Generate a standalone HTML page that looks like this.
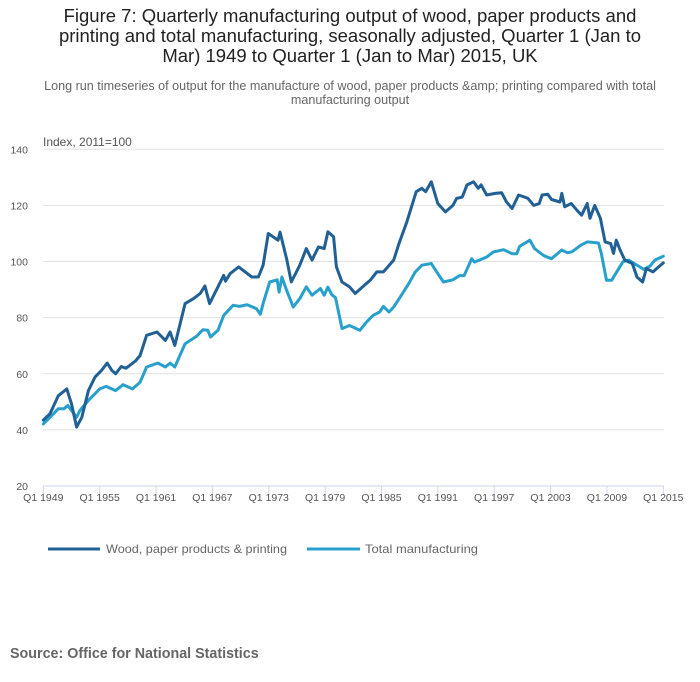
<!DOCTYPE html>
<html><head><meta charset="utf-8"><style>
body{margin:0;background:#fff;font-family:"Liberation Sans",sans-serif;}
#wrap{position:relative;width:700px;height:682px;overflow:hidden;}
.title{position:absolute;left:0;top:6px;width:700px;text-align:center;font-size:18.5px;line-height:20px;color:#222;}
.sub{position:absolute;left:0;top:79px;width:700px;text-align:center;font-size:12.6px;line-height:14px;color:#666;}
.source{position:absolute;left:10px;top:646px;font-size:14.3px;font-weight:bold;color:#666;}
</style></head><body>
<div id="wrap">
<div class="title">Figure 7: Quarterly manufacturing output of wood, paper products and<br>printing and total manufacturing, seasonally adjusted, Quarter 1 (Jan to<br>Mar) 1949 to Quarter 1 (Jan to Mar) 2015, UK</div>
<div class="sub">Long run timeseries of output for the manufacture of wood, paper products &amp;amp; printing compared with total<br>manufacturing output</div>
<svg id="chart" width="700" height="682" style="position:absolute;left:0;top:0"></svg>
<div class="source">Source: Office for National Statistics</div>
</div>
<script>
const yTicks=[20,40,60,80,100,120,140];
const xTickYears=[1949,1955,1961,1967,1973,1979,1985,1991,1997,2003,2009,2015];
const woodYears=[1949.0,1949.7,1950.6,1951.5,1952.0,1952.55,1953.1,1953.8,1954.5,1955.2,1955.8,1956.3,1956.7,1957.3,1957.8,1958.8,1959.3,1960.0,1961.1,1962.0,1962.5,1963.0,1964.1,1965.0,1965.7,1966.2,1966.7,1968.2,1968.4,1968.9,1969.8,1971.2,1971.9,1972.4,1972.95,1974.0,1974.2,1974.9,1975.4,1976.3,1977.0,1977.6,1978.3,1978.9,1979.3,1979.9,1980.2,1980.8,1981.6,1982.2,1983.0,1983.8,1984.5,1985.2,1986.3,1986.8,1987.7,1988.2,1988.7,1989.3,1989.7,1990.3,1991.0,1991.8,1992.6,1993.0,1993.6,1994.1,1994.8,1995.3,1995.6,1996.2,1997.1,1997.8,1998.3,1998.9,1999.6,2000.2,2000.6,2001.2,2001.8,2002.1,2002.7,2003.1,2004.0,2004.2,2004.5,2005.2,2005.8,2006.3,2006.9,2007.2,2007.7,2008.3,2008.8,2009.4,2009.7,2010.0,2010.4,2010.9,2011.7,2012.2,2012.8,2013.2,2013.9,2014.5,2015.0];
const woodValues=[43.5,45.7,52.2,54.6,49.3,41,44.5,54,58.8,61.2,63.8,61.2,60,62.6,62,64.5,66.5,73.7,74.9,71.9,74.9,70.1,85,86.8,88.6,91.3,85,95.1,93,95.7,98.1,94.5,94.5,98.7,110,107.6,110.5,101,92.7,98.7,104.6,100.5,105.2,104.6,110.6,108.8,98.1,92.7,91,88.6,91,93.3,96.3,96.3,100.5,105.8,114.1,119.5,124.9,126.1,124.9,128.4,120.7,117.7,120,122.5,123,127.3,128.4,126.1,127.3,123.7,124.3,124.5,121.3,118.9,123.7,123,122.5,120,120.7,123.7,124,122.1,121.2,124.3,119.5,120.7,118.3,116.5,120.7,115.4,120,115.4,107,106.4,102.9,107.6,104.1,100.5,99.3,94.5,92.7,97.5,96.3,98.1,99.5];
const totalYears=[1949.0,1949.7,1950.6,1951.2,1951.6,1952.55,1952.9,1953.8,1955.0,1955.7,1956.7,1957.5,1958.5,1959.3,1960.0,1961.2,1962.0,1962.5,1963.0,1964.1,1965.3,1966.0,1966.5,1966.8,1967.6,1968.2,1969.2,1969.9,1970.7,1971.7,1972.1,1972.4,1973.1,1973.9,1974.1,1974.4,1974.9,1975.6,1976.3,1977.0,1977.6,1978.5,1978.9,1979.3,1979.7,1980.1,1980.8,1981.6,1982.7,1983.4,1984.1,1984.8,1985.2,1985.8,1986.3,1987.0,1987.9,1988.6,1989.3,1990.3,1991.0,1991.6,1992.6,1993.3,1993.8,1994.6,1994.9,1996.2,1996.9,1998.0,1998.9,1999.4,1999.7,2000.8,2001.3,2002.0,2002.4,2003.1,2004.2,2004.8,2005.3,2006.2,2006.9,2008.1,2008.4,2008.95,2009.5,2010.7,2011.3,2011.8,2012.5,2012.9,2013.6,2014.1,2015.0];
const totalValues=[42.1,44.5,47.5,47.5,48.7,44.5,46.9,50.5,54.6,55.5,54,56.1,54.6,57,62.4,63.8,62.4,63.8,62.4,70.7,73.3,75.7,75.5,73.1,75.5,80.8,84.4,84,84.6,83.2,81.2,85,92.7,93.5,89.1,94.5,89.8,83.8,86.8,91,88,90.4,88,90.9,88.2,87.1,76.1,77.2,75.5,78.4,80.8,82,84,82,83.8,87.4,92.1,96.3,98.7,99.3,95.7,92.7,93.5,95,95,101,99.8,101.6,103.4,104.2,102.8,102.8,105.4,107.6,104.6,102.8,101.9,101,104.1,103.1,103.5,105.8,107,106.6,102.9,93.3,93.3,99.9,100.5,99.5,98.1,97.2,98.4,100.5,101.9];

const NS='http://www.w3.org/2000/svg';
const svg=document.getElementById('chart');
const X0=43.3,X1=663.3,Y0=486,Y1=149.3;
function xs(y){return X0+(y-1949)/(2015-1949)*(X1-X0);}
function ys(v){return Y0-(v-20)/(140-20)*(Y0-Y1);}
function mk(t,a){const e=document.createElementNS(NS,t);for(const k in a)e.setAttribute(k,a[k]);svg.appendChild(e);return e;}

const lab=mk('text',{x:43,y:146,'font-size':12,fill:'#555'});
lab.textContent='Index, 2011=100';



yTicks.forEach(v=>{
  if(v>20){const g=mk('line',{x1:43,x2:664,y1:ys(v),y2:ys(v),stroke:'#e2e2e2','stroke-width':1});
  
  }
  const t=mk('text',{x:28,y:ys(v)+4,'font-size':10.5,fill:'#555','text-anchor':'end'});
  t.textContent=v;
  
  
});
const ax=mk('line',{x1:43,x2:664,y1:Y0,y2:Y0,stroke:'#ccd6eb','stroke-width':1});


xTickYears.forEach(y=>{
  const l=mk('line',{x1:xs(y),x2:xs(y),y1:Y0,y2:Y0+9,stroke:'#ccd6eb','stroke-width':1});
  
  
  const t=mk('text',{x:xs(y),y:Y0+15,'font-size':10.5,fill:'#555','text-anchor':'middle'});
  t.textContent='Q1 '+y;
  
  
});
function line(yrs,vals,col,name){
  const d=yrs.map((y,i)=>(i?'L':'M')+xs(y).toFixed(1)+','+ys(vals[i]).toFixed(1)).join('');
  const p=mk('path',{d:d,fill:'none',stroke:col,'stroke-width':3,'stroke-linejoin':'round','stroke-linecap':'round'});
  
  
}
line(totalYears,totalValues,'#27a0cc','series-total-manufacturing');
line(woodYears,woodValues,'#206095','series-wood-paper-printing');

[[48,100,106,181,'#206095','Wood, paper products & printing','legend-wood'],[307,360,365,113,'#27a0cc','Total manufacturing','legend-total']].forEach(a=>{
  const l=mk('line',{x1:a[0],x2:a[1],y1:549,y2:549,stroke:a[4],'stroke-width':3});
  
  
  const t=mk('text',{x:a[2],y:553,'font-size':12,fill:'#666',textLength:a[3],lengthAdjust:'spacingAndGlyphs'});
  t.textContent=a[5];
  
  
});
</script>
</body></html>
